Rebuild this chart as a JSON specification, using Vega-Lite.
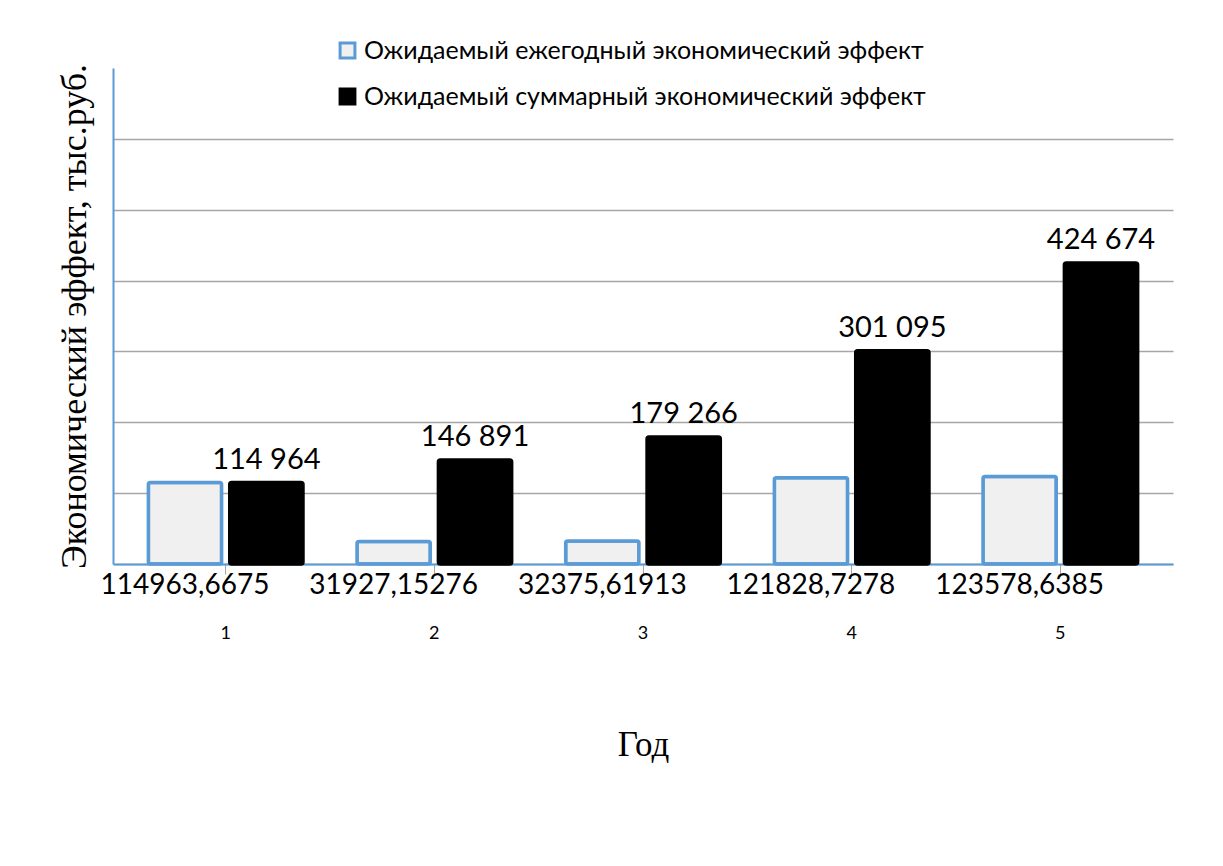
{
  "$schema": "https://vega.github.io/schema/vega-lite/v6.json",
  "width": 1223,
  "height": 866,
  "autosize": {"type": "fit", "contains": "padding"},
  "padding": {"left": 56, "top": 68, "right": 50, "bottom": 104},
  "background": "white",
  "config": {
    "locale": {"number": {"decimal": ",", "thousands": " ", "grouping": [3], "currency": ["", ""]}},
    "view": {"stroke": null},
    "font": "Lato"
  },
  "data": {
    "values": [
      {"year": "1", "series": "Ожидаемый ежегодный экономический эффект", "value": 114963.6675},
      {"year": "2", "series": "Ожидаемый ежегодный экономический эффект", "value": 31927.15276},
      {"year": "3", "series": "Ожидаемый ежегодный экономический эффект", "value": 32375.61913},
      {"year": "4", "series": "Ожидаемый ежегодный экономический эффект", "value": 121828.7278},
      {"year": "5", "series": "Ожидаемый ежегодный экономический эффект", "value": 123578.6385},
      {"year": "1", "series": "Ожидаемый суммарный экономический эффект", "value": 114964},
      {"year": "2", "series": "Ожидаемый суммарный экономический эффект", "value": 146891},
      {"year": "3", "series": "Ожидаемый суммарный экономический эффект", "value": 179266},
      {"year": "4", "series": "Ожидаемый суммарный экономический эффект", "value": 301095},
      {"year": "5", "series": "Ожидаемый суммарный экономический эффект", "value": 424674}
    ]
  },
  "encoding": {
    "x": {
      "field": "year",
      "type": "ordinal",
      "scale": {"paddingInner": 0.22, "paddingOuter": 0.15},
      "axis": {
        "title": "Год",
        "titleFont": "Liberation Serif",
        "titleFontSize": 35,
        "titleFontWeight": "normal",
        "titleColor": "black",
        "titlePadding": 85,
        "labelAngle": 0,
        "labelFont": "Lato",
        "labelFontSize": 18,
        "labelColor": "black",
        "labelPadding": 50,
        "domainColor": "#5B9BD5",
        "domainWidth": 2,
        "tickColor": "#A6A6A6",
        "tickSize": 10
      }
    },
    "xOffset": {
      "field": "series",
      "type": "nominal",
      "scale": {"paddingInner": 0.1, "paddingOuter": 0.05}
    },
    "y": {
      "field": "value",
      "type": "quantitative",
      "scale": {"domain": [0, 700000]},
      "axis": {
        "title": "Экономический эффект, тыс.руб.",
        "titleFont": "Liberation Serif",
        "titleFontSize": 36,
        "titleFontWeight": "normal",
        "titleColor": "black",
        "titlePadding": 20,
        "labels": false,
        "ticks": false,
        "values": [0, 100000, 200000, 300000, 400000, 500000, 600000],
        "domainColor": "#5B9BD5",
        "domainWidth": 2,
        "gridColor": "#A6A6A6",
        "gridWidth": 1.5
      }
    }
  },
  "layer": [
    {
      "mark": {"type": "bar", "strokeWidth": 3.5, "cornerRadius": 2},
      "encoding": {
        "color": {
          "field": "series",
          "type": "nominal",
          "scale": {"range": ["#F0F0F0", "#000000"]},
          "legend": {
            "title": null,
            "orient": "none",
            "legendX": 222,
            "legendY": -30,
            "direction": "vertical",
            "symbolType": "square",
            "symbolSize": 220,
            "symbolStrokeWidth": 3,
            "labelFont": "Lato",
            "labelFontSize": 25,
            "labelColor": "black",
            "labelLimit": 800,
            "rowPadding": 19
          }
        },
        "stroke": {
          "field": "series",
          "type": "nominal",
          "scale": {"range": ["#5B9BD5", "#000000"]},
          "legend": null
        }
      }
    },
    {
      "transform": [{"filter": "datum.series === 'Ожидаемый суммарный экономический эффект'"}],
      "mark": {"type": "text", "baseline": "bottom", "dy": -8, "fontSize": 29, "font": "Lato", "color": "black"},
      "encoding": {
        "text": {"field": "value", "type": "quantitative", "format": ",.0f"}
      }
    },
    {
      "transform": [{"filter": "datum.series === 'Ожидаемый ежегодный экономический эффект'"}],
      "mark": {"type": "text", "baseline": "top", "dy": 8, "fontSize": 28, "font": "Lato", "color": "black"},
      "encoding": {
        "y": {"datum": 0, "type": "quantitative"},
        "text": {"field": "value", "type": "quantitative", "format": ".10~r"}
      }
    }
  ]
}
